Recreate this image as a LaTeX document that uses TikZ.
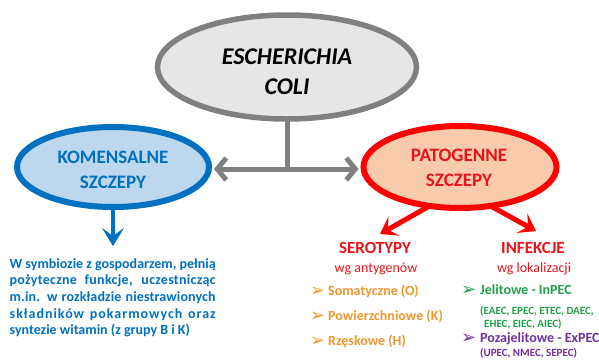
\documentclass[tikz,border=0pt]{standalone}
\usepackage{fontspec}
\setmainfont{Carlito}
\newfontfamily\dejavu{DejaVu Sans}
\usetikzlibrary{shapes.geometric,arrows.meta}
\definecolor{cgray}{HTML}{808080}
\definecolor{cgrayfill}{HTML}{E7E6E6}
\definecolor{cblue}{HTML}{0070C0}
\definecolor{cbluefill}{HTML}{BDD7EE}
\definecolor{cred}{HTML}{FF0000}
\definecolor{credfill}{HTML}{F8CBAD}
\definecolor{credtext}{HTML}{E8141C}
\definecolor{corange}{HTML}{F0962E}
\definecolor{cgreen}{HTML}{1FA04A}
\definecolor{cpurple}{HTML}{7030A0}
\tikzset{
  gtip/.tip={Straight Barb[length=9pt,width=22pt]},
  btip/.tip={Stealth[length=18pt,width=22pt,inset=8pt]},
  rtip/.tip={Stealth[length=16pt,width=22pt,inset=7pt]},
}
\begin{document}
\begin{tikzpicture}[x=1pt,y=-1pt,
  ell/.style={ellipse, inner sep=0pt, outer sep=0pt},
  topell/.style={ell, draw=cgray, fill=cgrayfill, line width=5.5pt, minimum width=259pt, minimum height=104pt},
  leftell/.style={ell, draw=cblue, fill=cbluefill, line width=6pt, minimum width=192pt, minimum height=80pt},
  rightell/.style={ell, draw=cred, fill=credfill, line width=6pt, minimum width=193pt, minimum height=82pt},
  ttl/.style={font=\fontsize{24}{30}\selectfont\bfseries\itshape, align=center, text=black, inner sep=0pt},
  sub/.style={font=\fontsize{19}{25}\selectfont\bfseries, align=center, inner sep=0pt},
  glink/.style={draw=cgray, line width=5pt},
  blink/.style={draw=cblue, line width=4.5pt, -btip},
  rlink/.style={draw=cred, line width=5pt, -rtip},
  head/.style={font=\fontsize{17}{20}\selectfont\bfseries, text=credtext, anchor=base, inner sep=0pt},
  wg/.style={font=\fontsize{14}{17}\selectfont, text=credtext, anchor=base, inner sep=0pt},
  item/.style={font=\fontsize{14}{17}\selectfont\bfseries, anchor=base west, inner sep=0pt},
  small/.style={font=\fontsize{11}{13}\selectfont\bfseries, anchor=base west, inner sep=0pt},
  bul/.style={font=\dejavu\fontsize{18}{20}\selectfont, anchor=base west, inner sep=0pt},
]
\useasboundingbox (0,0) rectangle (599,359);

% ellipses
\node[topell] (top) at (287,67) {};
\node[ttl] (toptext) at (287,72) {ESCHERICHIA\\COLI};
\node[leftell] (left) at (113,167) {};
\node[sub, text=cblue] (lefttext) at (113,170) {KOMENSALNE\\SZCZEPY};
\node[rightell] (right) at (460,167) {};
\node[sub, text=credtext] (righttext) at (459,168) {PATOGENNE\\SZCZEPY};

% gray connector
\coordinate (jn) at (288,169);
\draw[glink] (top.south) -- (top.south |- jn);
\draw[glink, gtip-gtip] ([xshift=5pt]left.east |- jn) -- ([xshift=-5pt]right.west |- jn);

% blue arrow and text
\coordinate (btipc) at (113,246);
\draw[blink] (left.south) -- (btipc);
\node[anchor=north west, inner sep=0pt, align=left, text=cblue,
      font=\fontsize{14}{16.7}\selectfont\bfseries] (desc) at (9.5,258) {%
\makebox[206pt][s]{W symbiozie z gospodarzem, pełnią}\\
\makebox[206pt][s]{\addfontfeature{LetterSpace=2}pożyteczne funkcje, uczestnicząc}\\
\makebox[206pt][s]{\addfontfeature{LetterSpace=1}m.in. w rozkładzie niestrawionych}\\
\makebox[206pt][s]{\addfontfeature{LetterSpace=7}składników pokarmowych oraz}\\
syntezie witamin (z grupy B i K)};

% red arrows
\coordinate (rtipl) at (380,234);
\coordinate (rtipr) at (536,231);
\draw[rlink] (right.232) -- (rtipl);
\draw[rlink] (right.308) -- (rtipr);

% serotypy
\node[head] (sero) at (375,253.5) {SEROTYPY};
\node[wg] (serowg) at (376,272) {wg antygenów};
\node[bul, text=corange] (b1) at (310,296.5) {➢};
\node[item, text=corange] (s1) at (328,295.5) {Somatyczne (O)};
\node[bul, text=corange] (b2) at (310,321.5) {➢};
\node[item, text=corange] (s2) at (328,320.5) {Powierzchniowe (K)};
\node[bul, text=corange] (b3) at (310,346.5) {➢};
\node[item, text=corange] (s3) at (328,345.5) {Rzęskowe (H)};

% infekcje
\node[head] (inf) at (533,253.5) {INFEKCJE};
\node[wg] (infwg) at (534,272) {wg lokalizacji};
\node[bul, text=cgreen] (b4) at (461,295.5) {➢};
\node[item, text=cgreen] (i1) at (480,294.5) {Jelitowe - InPEC};
\node[small, text=cgreen] (i1a) at (480,314.5) {(EAEC, EPEC, ETEC, DAEC,};
\node[small, text=cgreen] (i1b) at (484,327) {EHEC, EIEC, AIEC)};
\node[bul, text=cpurple] (b5) at (461,343.5) {➢};
\node[item, text=cpurple] (i2) at (480,342.5) {Pozajelitowe - ExPEC};
\node[small, text=cpurple] (i2a) at (480,356.5) {(UPEC, NMEC, SEPEC)};
\end{tikzpicture}
\end{document}
